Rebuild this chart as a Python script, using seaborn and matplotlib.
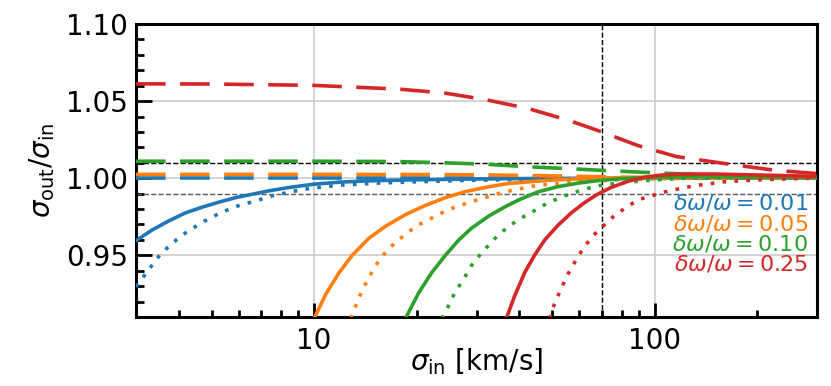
import numpy as np
import pandas as pd
import matplotlib
matplotlib.use("Agg")
import matplotlib.pyplot as plt
from matplotlib.ticker import FixedLocator, MultipleLocator, NullFormatter, FixedFormatter
import seaborn as sns

# sigma_in [km/s] vs sigma_out/sigma_in
# solid lines
blue_solid_x = [3.0, 3.35, 3.75, 4.19, 4.69, 5.26, 5.88, 6.58, 7.36, 8.23, 9.2, 10.07, 12, 15, 20, 30, 50, 100, 300]
blue_solid_y = [0.9595, 0.9665, 0.9724, 0.9775, 0.9812, 0.9845, 0.9874, 0.9896, 0.9918, 0.9936, 0.9951, 0.9962,
                0.9975, 0.9984, 0.9990, 0.9995, 0.9999, 1.0, 1.0]
orange_solid_x = [10, 10.82, 11.83, 12.94, 14.48, 16.2, 18.55, 21.2, 24.3, 27.8, 32.5, 37, 47.6, 59.5, 75, 100, 150, 300]
orange_solid_y = [0.909, 0.9247, 0.9386, 0.950, 0.961, 0.9688, 0.9764, 0.9823, 0.9874, 0.9913, 0.9944, 0.9965,
                  0.9985, 0.9996, 1.0002, 1.0004, 1.0005, 1.0003]
green_solid_x = [18.55, 20.3, 22.2, 24.3, 26.6, 29.0, 32.5, 36.4, 40, 45.5, 52, 59.5, 68, 79.6, 97.6, 130, 200, 300]
green_solid_y = [0.909, 0.9258, 0.939, 0.950, 0.9599, 0.9676, 0.9753, 0.9815, 0.986, 0.9912, 0.9945, 0.9968,
                 0.9984, 0.9997, 1.0007, 1.001, 1.0007, 1.0004]
red_solid_x = [36.7, 38.8, 41.6, 44.4, 47.6, 52, 56.9, 62.2, 68, 74.5, 83.6, 93.3, 104, 120, 150, 200, 300]
red_solid_y = [0.909, 0.9236, 0.939, 0.950, 0.960, 0.9694, 0.9775, 0.9841, 0.9896, 0.994, 0.998, 1.0006,
               1.002, 1.0027, 1.0027, 1.0021, 1.0012]

# dotted lines
blue_dot_x = [3.0, 3.28, 3.55, 3.88, 4.24, 4.75, 5.3, 5.94, 6.72, 7.52, 8.6, 9.85, 12, 15, 20, 30, 50, 70, 100, 300]
blue_dot_y = [0.9295, 0.9412, 0.9511, 0.9588, 0.9654, 0.972, 0.9775, 0.9819, 0.9852, 0.9885, 0.9913, 0.9936,
              0.9955, 0.9967, 0.9977, 0.9987, 0.9994, 0.9997, 1.0, 1.0]
orange_dot_x = [12.8, 13.24, 13.85, 14.65, 15.49, 16.56, 17.72, 18.96, 20.28, 22.18, 24.8, 28.4, 31.8, 34.7,
                39.8, 45.5, 59, 75, 100, 150, 300]
orange_dot_y = [0.909, 0.917, 0.9275, 0.9375, 0.9465, 0.9544, 0.960, 0.9653, 0.9698, 0.9742, 0.9797, 0.9841,
                0.9874, 0.990, 0.993, 0.9955, 0.9976, 0.9988, 0.9996, 1.0002, 1.0002]
green_dot_x = [23.7, 24.8, 25.9, 27.5, 29, 31, 34, 37.2, 40.6, 44.4, 48.7, 54.4, 60.9, 68, 77.9, 89, 99.7, 130, 200, 300]
green_dot_y = [0.909, 0.917, 0.9258, 0.9346, 0.9434, 0.9515, 0.961, 0.9687, 0.9742, 0.979, 0.9841, 0.9885,
               0.9922, 0.9951, 0.9968, 0.998, 0.9988, 1.0003, 1.0006, 1.0004]
red_dot_x = [49.2, 50.3, 51.5, 52.8, 54.2, 55.7, 57.5, 59.5, 61.5, 63.9, 66.6, 69.8, 73.1, 76.8, 80.9, 85.1,
             90.3, 97.6, 110, 130, 160, 200, 250, 300]
red_dot_y = [0.909, 0.916, 0.9214, 0.927, 0.9324, 0.9379, 0.9434, 0.9489, 0.954, 0.9588, 0.9636, 0.968, 0.972,
             0.9764, 0.9797, 0.983, 0.9863, 0.9885, 0.9918, 0.995, 0.9977, 0.9989, 0.9996, 1.0001]

# dashed lines
blue_dash_x = [3, 10, 30, 100, 300]
blue_dash_y = [1.0, 1.0, 1.0, 1.0, 1.0]
orange_dash_x = [3, 10, 20, 30, 45, 60, 80, 100, 150, 300]
orange_dash_y = [1.0025, 1.0025, 1.0024, 1.0022, 1.0017, 1.0012, 1.0007, 1.0004, 1.0002, 1.0001]
green_dash_x = [3, 10, 17.7, 24.2, 32.3, 42.5, 55.8, 74.3, 100, 150, 200, 300]
green_dash_y = [1.011, 1.011, 1.0108, 1.0100, 1.0090, 1.0074, 1.0062, 1.0048, 1.0035, 1.002, 1.0013, 1.0007]
red_dash_x = [3, 5, 10, 17.7, 24.2, 31.8, 42.5, 55.8, 68, 89, 116, 167, 224, 300]
red_dash_y = [1.0612, 1.0611, 1.0602, 1.0578, 1.0552, 1.0510, 1.0452, 1.0376, 1.031, 1.0213, 1.0140, 1.009,
              1.0052, 1.0030]

labels = [r"$\delta\omega/\omega = 0.01$", r"$\delta\omega/\omega = 0.05$",
          r"$\delta\omega/\omega = 0.10$", r"$\delta\omega/\omega = 0.25$"]
colors = ["#1f77b4", "#ff7f0e", "#2ca02c", "#d62728"]

sns.set_style("white")
plt.rcParams["font.family"] = ["DejaVu Sans"]
plt.rcParams["text.color"] = "black"
plt.rcParams["axes.labelcolor"] = "black"
plt.rcParams["xtick.color"] = "black"
plt.rcParams["ytick.color"] = "black"

fig = plt.figure(figsize=(8.31, 3.86), dpi=100)
ax = fig.add_axes([0.1637, 0.1788, 0.8195, 0.759])

solid = "-"
dotted = (0, (1, 2.3))
dashed = (0, (8.2, 4.0))

curves = [
    (blue_solid_x, blue_solid_y, colors[0], solid),
    (blue_dot_x, blue_dot_y, colors[0], dotted),
    (blue_dash_x, blue_dash_y, colors[0], dashed),
    (orange_solid_x, orange_solid_y, colors[1], solid),
    (orange_dot_x, orange_dot_y, colors[1], dotted),
    (orange_dash_x, orange_dash_y, colors[1], dashed),
    (green_solid_x, green_solid_y, colors[2], solid),
    (green_dot_x, green_dot_y, colors[2], dotted),
    (green_dash_x, green_dash_y, colors[2], dashed),
    (red_solid_x, red_solid_y, colors[3], solid),
    (red_dot_x, red_dot_y, colors[3], dotted),
    (red_dash_x, red_dash_y, colors[3], dashed),
]

for xs, ys, c, ls in curves:
    df = pd.DataFrame({"sigma_in": xs, "ratio": ys})
    sns.lineplot(data=df, x="sigma_in", y="ratio", color=c, linestyle=ls,
                 linewidth=2.6, ax=ax, sort=False, estimator=None, zorder=3)

# reference lines
ax.axhline(1.01, color="k", ls="--", lw=1, zorder=2)
ax.axhline(0.99, color="0.35", ls="--", lw=1, zorder=2)
ax.axvline(70, color="k", ls="--", lw=1, zorder=2)

ax.set_xscale("log")
ax.set_xlim(3, 300)
ax.set_ylim(0.91, 1.10)

ax.xaxis.set_major_locator(FixedLocator([10, 100]))
ax.xaxis.set_major_formatter(FixedFormatter(["10", "100"]))
ax.xaxis.set_minor_locator(FixedLocator([3, 4, 5, 6, 7, 8, 9, 20, 30, 40, 50, 60, 70, 80, 90, 200, 300]))
ax.xaxis.set_minor_formatter(NullFormatter())
ax.yaxis.set_major_locator(FixedLocator([0.95, 1.00, 1.05, 1.10]))
ax.yaxis.set_major_formatter(FixedFormatter(["0.95", "1.00", "1.05", "1.10"]))
ax.yaxis.set_minor_locator(MultipleLocator(0.01))

ax.tick_params(which="both", direction="in", left=True, bottom=True, top=False, right=False,
               width=2, labelsize=20)
ax.tick_params(axis="y", which="major", length=11.5, pad=6)
ax.tick_params(axis="y", which="minor", length=6)
ax.tick_params(axis="x", which="major", length=10.3, pad=7)
ax.tick_params(axis="x", which="minor", length=4.8)

ax.grid(True, which="major", color="#cccccc", lw=1.2, zorder=0)
for sp in ax.spines.values():
    sp.set_linewidth(2.2)
    sp.set_color("k")

ax.set_xlabel(r"$\sigma_{\rm in}$ [km/s]", fontsize=20, labelpad=-6)
ax.set_ylabel(r"$\sigma_{\rm out}/\sigma_{\rm in}$", fontsize=20, labelpad=6)

for i, (lab, c) in enumerate(zip(labels, colors)):
    ax.text(0.987, 0.388 - i * 0.069, lab, color=c, fontsize=16,
            ha="right", va="center", transform=ax.transAxes, zorder=4)

fig.savefig("out.png", dpi=100)
